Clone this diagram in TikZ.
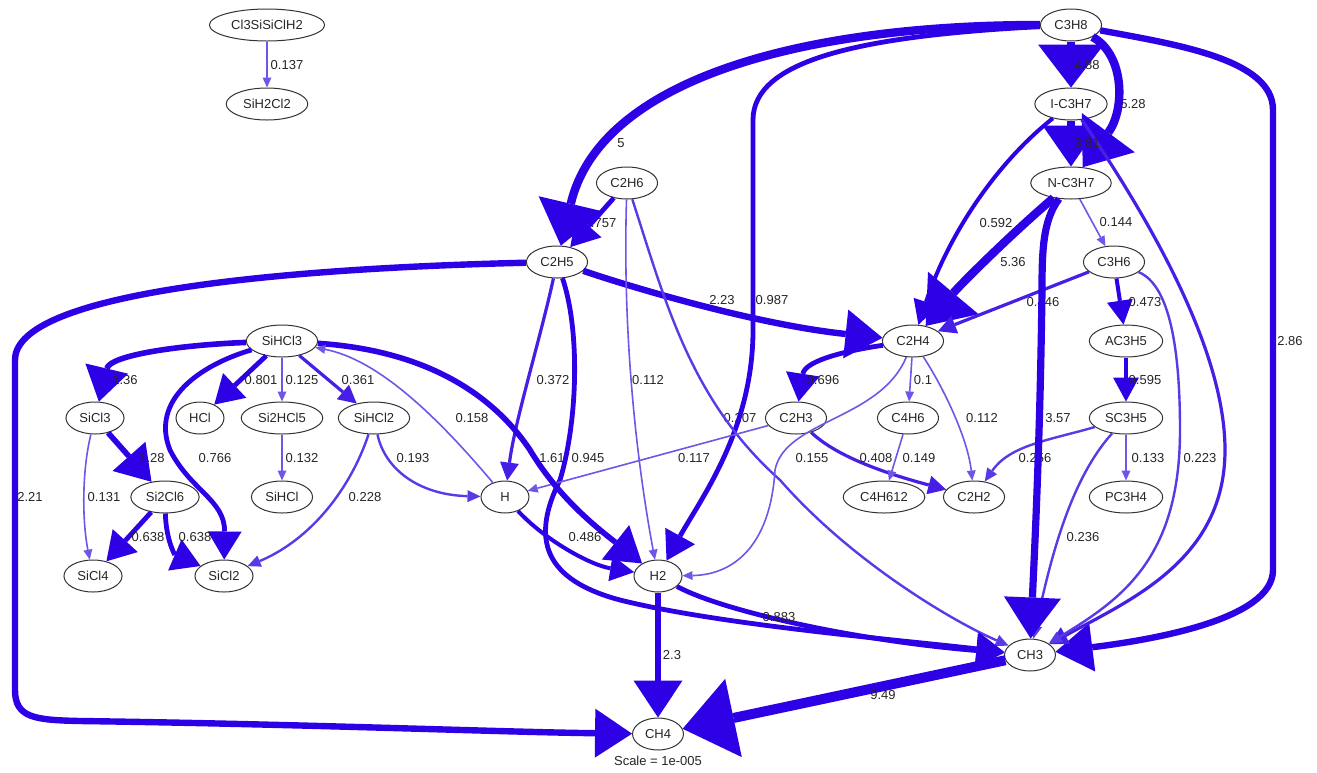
\documentclass[tikz,border=0pt]{standalone}
\usepackage{fontspec}
\setmainfont{Liberation Sans}
\usetikzlibrary{arrows.meta,shapes.geometric}
\definecolor{c1}{RGB}{112,86,232}
\definecolor{c2}{RGB}{90,58,230}
\definecolor{c3}{RGB}{70,30,230}
\definecolor{c4}{RGB}{46,0,230}
\tikzset{
 nd/.style={ellipse, draw=black!80, line width=0.5pt, fill=white, inner xsep=2.5pt, inner ysep=0.5pt, minimum height=16pt, minimum width=24pt, font=\fontsize{6.5}{7.5}\selectfont, text=black!85},
 lb/.style={font=\fontsize{6.5}{7.5}\selectfont, text=black!85, inner sep=0pt},
 a1/.style={line width=0.8pt, draw=c1, -{Triangle[length=5pt,width=4.5pt,line width=0pt]}},
 a2/.style={line width=1.2pt, draw=c2, -{Triangle[length=6.5pt,width=6pt,line width=0pt]}},
 a3/.style={line width=1.6pt, draw=c3, -{Triangle[length=9pt,width=9.5pt,line width=0pt]}},
 a4/.style={line width=2pt, draw=c4, -{Triangle[length=12pt,width=13pt,line width=0pt]}},
 a5/.style={line width=2.4pt, draw=c4, -{Triangle[length=14pt,width=17pt,line width=0pt]}},
 a6/.style={line width=2.8pt, draw=c4, -{Triangle[length=17pt,width=22pt,line width=0pt]}},
 a7/.style={line width=3.2pt, draw=c4, -{Triangle[length=18.5pt,width=24.5pt,line width=0pt]}},
 a8/.style={line width=3.6pt, draw=c4, -{Triangle[length=20.5pt,width=28.5pt,line width=0pt]}},
 a9/.style={line width=4.2pt, draw=c4, -{Triangle[length=21.5pt,width=33pt,line width=0pt]}},
 a10/.style={line width=5pt, draw=c4, -{Triangle[length=26pt,width=40pt,line width=0pt]}},
}
\begin{document}
\begin{tikzpicture}[x=0.5pt,y=-0.5pt]
\useasboundingbox[fill=white] (0,0) rectangle (1317,772);
% nodes
\node[nd] (cl3) at (267,25) {Cl3SiSiClH2};
\node[nd] (sih2cl2) at (267,104) {SiH2Cl2};
\node[nd] (c3h8) at (1071,25) {C3H8};
\node[nd] (ic3h7) at (1071,104) {I-C3H7};
\node[nd] (nc3h7) at (1071,183) {N-C3H7};
\node[nd] (c2h6) at (627,183) {C2H6};
\node[nd] (c2h5) at (557,262) {C2H5};
\node[nd] (c3h6) at (1114,262) {C3H6};
\node[nd] (sihcl3) at (282,341) {SiHCl3};
\node[nd] (c2h4) at (913,341) {C2H4};
\node[nd] (ac3h5) at (1126,341) {AC3H5};
\node[nd] (sicl3) at (95,418) {SiCl3};
\node[nd] (hcl) at (200,418) {HCl};
\node[nd] (si2hcl5) at (282,418) {Si2HCl5};
\node[nd] (sihcl2) at (374,418) {SiHCl2};
\node[nd] (c2h3) at (796,418) {C2H3};
\node[nd] (c4h6) at (908,418) {C4H6};
\node[nd] (sc3h5) at (1126,418) {SC3H5};
\node[nd] (si2cl6) at (165,497) {Si2Cl6};
\node[nd] (sihcl) at (282,497) {SiHCl};
\node[nd] (h) at (505,497) {H};
\node[nd] (c4h612) at (884,497) {C4H612};
\node[nd] (c2h2) at (974,497) {C2H2};
\node[nd] (pc3h4) at (1126,497) {PC3H4};
\node[nd] (sicl4) at (93,576) {SiCl4};
\node[nd] (sicl2) at (224,576) {SiCl2};
\node[nd] (h2) at (658,576) {H2};
\node[nd] (ch3) at (1030,655) {CH3};
\node[nd] (ch4) at (658,734) {CH4};
\node[lb] (scale) at (658,761) {Scale = 1e-005};
% labels partly covered by later edges
\node[lb] (l0757) at (600,223) {0.757};
\node[lb] (l0207) at (740,418) {0.207};
\node[lb] (l0446) at (1043,302) {0.446};
\node[lb] (l0256) at (1035,458) {0.256};
% edges
\draw[a1] (cl3) -- (sih2cl2);
\draw[a5] (c2h6) -- (c2h5);
\draw[a9] (c3h8) .. controls (800,25) and (600,80) .. (c2h5);
\draw[a5] (c3h8) .. controls (860,36) and (753,60) .. (753,120) -- (753,330) .. controls (753,430) and (700,500) .. (h2);
\draw[a7] (c3h8) .. controls (1180,45) and (1273,60) .. (1273,110) -- (1273,570) .. controls (1273,620) and (1150,640) .. (ch3);
\draw[a9] (c3h8) -- (ic3h7);
\draw[a9] (c3h8) .. controls (1125,55) and (1125,110) .. (nc3h7);
\draw[a8] (ic3h7) -- (nc3h7);
\draw[a4] (ic3h7) .. controls (1000,160) and (950,230) .. (c2h4);
\draw[a3] (ic3h7) .. controls (1150,220) and (1225,350) .. (1225,450) .. controls (1225,560) and (1130,600) .. (ch3);
\draw[a9] (nc3h7) .. controls (1010,235) and (960,285) .. (c2h4);
\draw[a1] (nc3h7) -- (c3h6);
\draw[a3] (c3h6) -- (c2h4);
\draw[a4] (c3h6) -- (ac3h5);
\draw[a2] (c3h6) .. controls (1170,285) and (1180,350) .. (1180,430) .. controls (1180,560) and (1120,600) .. (ch3);
\draw[a4] (ac3h5) -- (sc3h5);
\draw[a2] (sc3h5) .. controls (1050,440) and (1010,445) .. (c2h2);
\draw[a1] (sc3h5) -- (pc3h4);
\draw[a2] (sc3h5) .. controls (1070,480) and (1050,560) .. (ch3);
\draw[a8] (nc3h7) .. controls (1043,220) and (1042,250) .. (1042,290) .. controls (1040,450) and (1034,560) .. (ch3);
\draw[a7] (c2h5) .. controls (640,290) and (760,325) .. (c2h4);
\draw[a1] (c2h6) .. controls (622,350) and (640,480) .. (h2);
\draw[a2] (c2h6) .. controls (665,300) and (690,400) .. (780,480) .. controls (850,560) and (950,620) .. (ch3);
\draw[a3] (c2h5) .. controls (540,340) and (515,420) .. (h);
\draw[a5] (c2h5) .. controls (580,330) and (578,420) .. (560,480) .. controls (530,540) and (545,580) .. (620,600) .. controls (720,625) and (900,640) .. (ch3);
\draw[a7] (c2h5) .. controls (300,268) and (15,290) .. (15,360) -- (15,690) .. controls (15,718) and (35,720) .. (80,721) .. controls (300,724) and (500,732) .. (ch4);
\draw[a5] (c2h4) .. controls (850,350) and (805,360) .. (c2h3);
\draw[a1] (c2h4) -- (c4h6);
\draw[a1] (c2h4) .. controls (945,390) and (968,440) .. (c2h2);
\draw[a1] (c2h4) .. controls (880,420) and (785,420) .. (775,470) .. controls (770,550) and (730,575) .. (h2);
\draw[a3] (c2h3) .. controls (835,455) and (880,472) .. (c2h2);
\draw[a1] (c2h3) -- (h);
\draw[a1] (c4h6) -- (c4h612);
\draw[a6] (sihcl3) .. controls (180,345) and (110,355) .. (sicl3);
\draw[a5] (sihcl3) -- (hcl);
\draw[a1] (sihcl3) -- (si2hcl5);
\draw[a3] (sihcl3) -- (sihcl2);
\draw[a5] (sihcl3) .. controls (200,365) and (150,400) .. (170,450) .. controls (190,490) and (225,500) .. (sicl2);
\draw[a6] (sihcl3) .. controls (420,350) and (490,390) .. (530,450) .. controls (560,500) and (600,530) .. (h2);
\draw[a1] (h) .. controls (440,420) and (380,360) .. (sihcl3);
\draw[a6] (sicl3) -- (si2cl6);
\draw[a1] (sicl3) .. controls (82,470) and (82,520) .. (sicl4);
\draw[a1] (si2hcl5) -- (sihcl);
\draw[a2] (sihcl2) .. controls (385,470) and (420,495) .. (h);
\draw[a2] (sihcl2) .. controls (350,490) and (310,540) .. (sicl2);
\draw[a5] (si2cl6) -- (sicl4);
\draw[a5] (si2cl6) .. controls (166,540) and (175,555) .. (sicl2);
\draw[a4] (h) .. controls (545,540) and (590,565) .. (h2);
\draw[a7] (h2) -- (ch4);
\draw[a5] (h2) .. controls (720,610) and (850,640) .. (ch3);
\draw[a10] (ch3) -- (ch4);
% labels
\node[lb] (l0137) at (287,65) {0.137};
\node[lb] (l488) at (1087,65) {4.88};
\node[lb] (l5) at (621,143) {5};
\node[lb] (l0987) at (772,300) {0.987};
\node[lb] (l286) at (1290,341) {2.86};
\node[lb] (l528) at (1133,104) {5.28};
\node[lb] (l381) at (1087,143) {3.81};
\node[lb] (l0592) at (996,223) {0.592};
\node[lb] (l536) at (1013,262) {5.36};
\node[lb] (l0144) at (1116,222) {0.144};
\node[lb] (l0473) at (1145,302) {0.473};
\node[lb] (l0223) at (1200,458) {0.223};
\node[lb] (l0595) at (1145,380) {0.595};
\node[lb] (l0133) at (1148,458) {0.133};
\node[lb] (l0236) at (1083,537) {0.236};
\node[lb] (l357) at (1058,418) {3.57};
\node[lb] (l223) at (722,300) {2.23};
\node[lb] (l0112a) at (648,380) {0.112};
\node[lb] (l0372) at (553,380) {0.372};
\node[lb] (l0945) at (588,458) {0.945};
\node[lb] (l221) at (30,497) {2.21};
\node[lb] (l0696) at (823,380) {0.696};
\node[lb] (l01) at (923,380) {0.1};
\node[lb] (l0112b) at (982,418) {0.112};
\node[lb] (l0155) at (812,458) {0.155};
\node[lb] (l0408) at (876,458) {0.408};
\node[lb] (l0117) at (694,458) {0.117};
\node[lb] (l0149) at (919,458) {0.149};
\node[lb] (l136) at (125,380) {1.36};
\node[lb] (l0801) at (261,380) {0.801};
\node[lb] (l0125) at (302,380) {0.125};
\node[lb] (l0361) at (358,380) {0.361};
\node[lb] (l0766) at (215,458) {0.766};
\node[lb] (l161) at (552,458) {1.61};
\node[lb] (l0158) at (472,418) {0.158};
\node[lb] (l128) at (152,458) {1.28};
\node[lb] (l0131) at (104,497) {0.131};
\node[lb] (l0132) at (302,458) {0.132};
\node[lb] (l0193) at (413,458) {0.193};
\node[lb] (l0228) at (365,497) {0.228};
\node[lb] (l0638a) at (148,537) {0.638};
\node[lb] (l0638b) at (195,537) {0.638};
\node[lb] (l0486) at (585,537) {0.486};
\node[lb] (l23) at (672,655) {2.3};
\node[lb] (l0883) at (779,617) {0.883};
\node[lb] (l949) at (883,695) {9.49};
\end{tikzpicture}
\end{document}
